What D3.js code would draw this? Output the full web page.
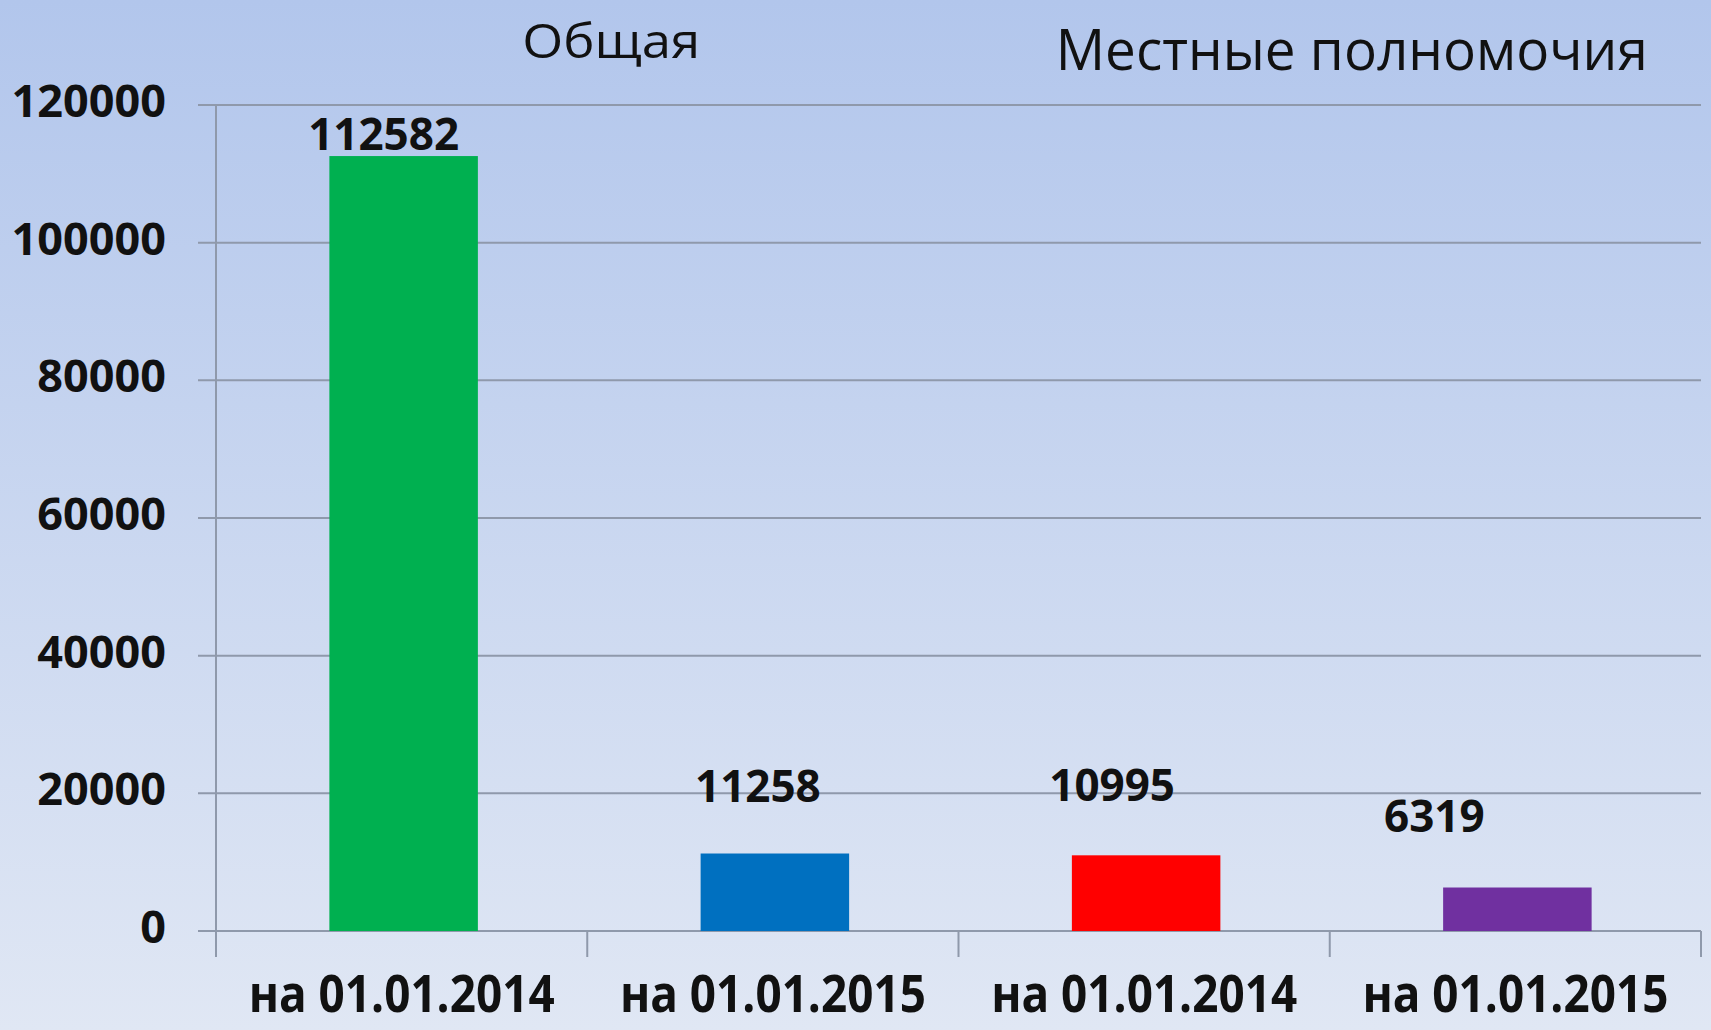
<!DOCTYPE html>
<html>
<head>
<meta charset="utf-8">
<script src="https://cdn.jsdelivr.net/npm/d3@7"></script>
<style>
  body { margin: 0; padding: 0; overflow: hidden; }
  svg { display: block; }
  text { font-family: "Open Sans", "Noto Sans", sans-serif; fill: #111; }
</style>
</head>
<body>
<svg id="chart" width="1711" height="1030"></svg>
<script>
// chart data
const categories = ["на 01.01.2014", "на 01.01.2015", "на 01.01.2014", "на 01.01.2015"];
const groups = ["Общая", "Местные полномочия"];
const values = [112582, 11258, 10995, 6319];
const barColors = ["#00b050", "#0070c0", "#ff0000", "#7030a0"];
const yTicks = [0, 20000, 40000, 60000, 80000, 100000, 120000];

// label placement tweaks (as in the original slide)
const labelDx = [-18, -15, -32, -81];
const labelDy = [6, 52, 54, 56];

let WIDTH = 1711, HEIGHT = 1030;
let LEFT = 216, RIGHT = 1701, TOP = 105, BOTTOM = 931;

const svg = d3.select('#chart');

// background gradient
const defs = svg.append('defs');
const grad = defs.append('linearGradient')
    .attr('id', 'bg').attr('x1', 0).attr('y1', 0).attr('x2', 0).attr('y2', 1);
grad.append('stop').attr('offset', '0%').attr('stop-color', '#b2c6ec');
grad.append('stop').attr('offset', '100%').attr('stop-color', '#e0e7f4');
svg.append('rect').attr('width', WIDTH).attr('height', HEIGHT).attr('fill', 'url(#bg)');

// scales
const xScale = d3.scaleBand()
    .domain(d3.range(categories.length))
    .range([LEFT, RIGHT])
    .padding(0);

const yScale = d3.scaleLinear()
    .domain([0, 120000])
    .range([BOTTOM, TOP]);

// gridlines
svg.append('g')
    .selectAll('line')
    .data(yTicks)
    .join('line')
    .attr('x1', LEFT - 18)
    .attr('x2', RIGHT)
    .attr('y1', d => yScale(d))
    .attr('y2', d => yScale(d))
    .attr('stroke', '#8f99ab')
    .attr('stroke-width', 2);

// y tick labels
svg.append('g')
    .selectAll('text')
    .data(yTicks)
    .join('text')
    .attr('x', 166)
    .attr('y', d => yScale(d) + 12)
    .attr('text-anchor', 'end')
    .attr('font-size', 45)
    .attr('font-weight', 700)
    .text(d => d);

// vertical axis + category boundary ticks
svg.append('line')
    .attr('x1', LEFT).attr('x2', LEFT)
    .attr('y1', TOP).attr('y2', BOTTOM + 26)
    .attr('stroke', '#8f99ab').attr('stroke-width', 2);

const bounds = d3.range(categories.length).map(i => xScale(i) + xScale.bandwidth());
svg.append('g')
    .selectAll('line')
    .data(bounds)
    .join('line')
    .attr('x1', d => d).attr('x2', d => d)
    .attr('y1', BOTTOM).attr('y2', BOTTOM + 26)
    .attr('stroke', '#8f99ab').attr('stroke-width', 2);

// bars
const barW = xScale.bandwidth() * 0.4;
svg.append('g')
    .selectAll('rect')
    .data(values)
    .join('rect')
    .attr('x', (d, i) => xScale(i) + xScale.bandwidth() / 2 - barW / 2 + 2)
    .attr('y', d => yScale(d))
    .attr('width', barW)
    .attr('height', d => BOTTOM - yScale(d))
    .attr('fill', (d, i) => barColors[i]);

// value labels
svg.append('g')
    .selectAll('text')
    .data(values)
    .join('text')
    .attr('x', (d, i) => xScale(i) + xScale.bandwidth() / 2 + labelDx[i])
    .attr('y', (d, i) => yScale(d) - labelDy[i])
    .attr('text-anchor', 'middle')
    .attr('font-size', 44)
    .attr('font-weight', 700)
    .text(d => d);

// category labels
svg.append('g')
    .selectAll('text')
    .data(categories)
    .join('text')
    .attr('x', (d, i) => xScale(i) + xScale.bandwidth() / 2)
    .attr('y', 1012)
    .attr('text-anchor', 'middle')
    .attr('font-size', 52)
    .attr('font-weight', 700)
    .attr('textLength', 306)
    .attr('lengthAdjust', 'spacingAndGlyphs')
    .text(d => d);

// group titles
svg.append('text')
    .attr('x', xScale(1) + 24)
    .attr('y', 58)
    .attr('text-anchor', 'middle')
    .attr('font-size', 48)
    .attr('textLength', 178)
    .attr('lengthAdjust', 'spacingAndGlyphs')
    .text(groups[0]);

svg.append('text')
    .attr('x', xScale(3) + 22)
    .attr('y', 70)
    .attr('text-anchor', 'middle')
    .attr('font-size', 57)
    .attr('textLength', 592)
    .attr('lengthAdjust', 'spacingAndGlyphs')
    .text(groups[1]);
</script>
</body>
</html>
